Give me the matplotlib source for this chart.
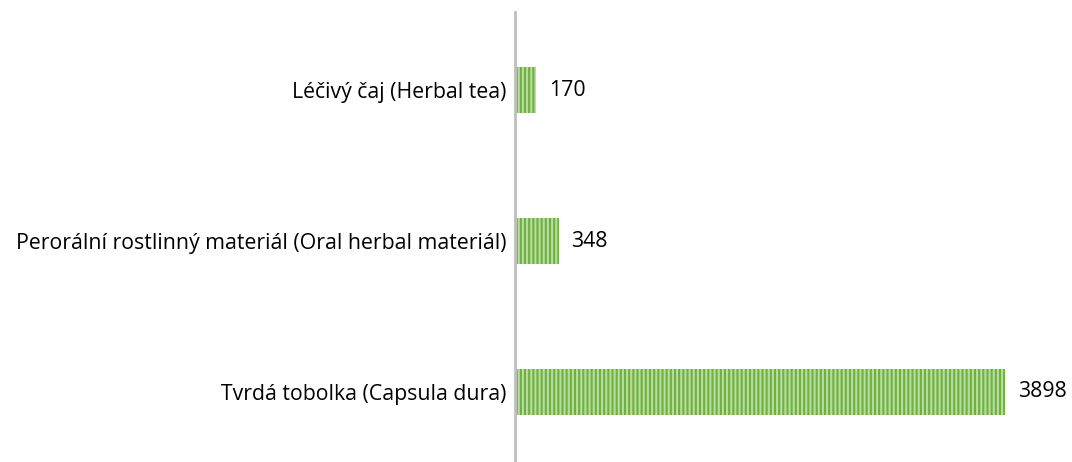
import matplotlib.pyplot as plt

categories = ["Léčivý čaj (Herbal tea)",
              "Perorální rostlinný materiál (Oral herbal materiál)",
              "Tvrdá tobolka (Capsula dura)"]
values = [170, 348, 3898]

plt.rcParams['font.family'] = ['Open Sans', 'DejaVu Sans']
plt.rcParams['hatch.linewidth'] = 1.5
plt.rcParams['hatch.color'] = '#b9dca0'

fig = plt.figure(figsize=(10.72, 4.62), dpi=100)
ax = fig.add_axes([515/1072, 0, 557/1072, 450/462])

bars = ax.barh(range(len(values)), values, height=0.3, color='#6fb13f',
               hatch='||||', edgecolor='#b9dca0', linewidth=0)

for i, v in enumerate(values):
    ax.text(v + 100, i, str(v), va='center', ha='left', fontsize=15.3)

ax.set_yticks(range(len(categories)))
ax.set_yticklabels(categories, fontsize=15.3)
ax.tick_params(axis='y', length=0, pad=6)
ax.set_xticks([])
ax.set_xlim(0, 4431)
ax.set_ylim(2.464, -0.517)

for s in ['top', 'right', 'bottom']:
    ax.spines[s].set_visible(False)
ax.spines['left'].set_color('#bfbfbf')
ax.spines['left'].set_linewidth(2)

fig.savefig('out.png', dpi=100)
